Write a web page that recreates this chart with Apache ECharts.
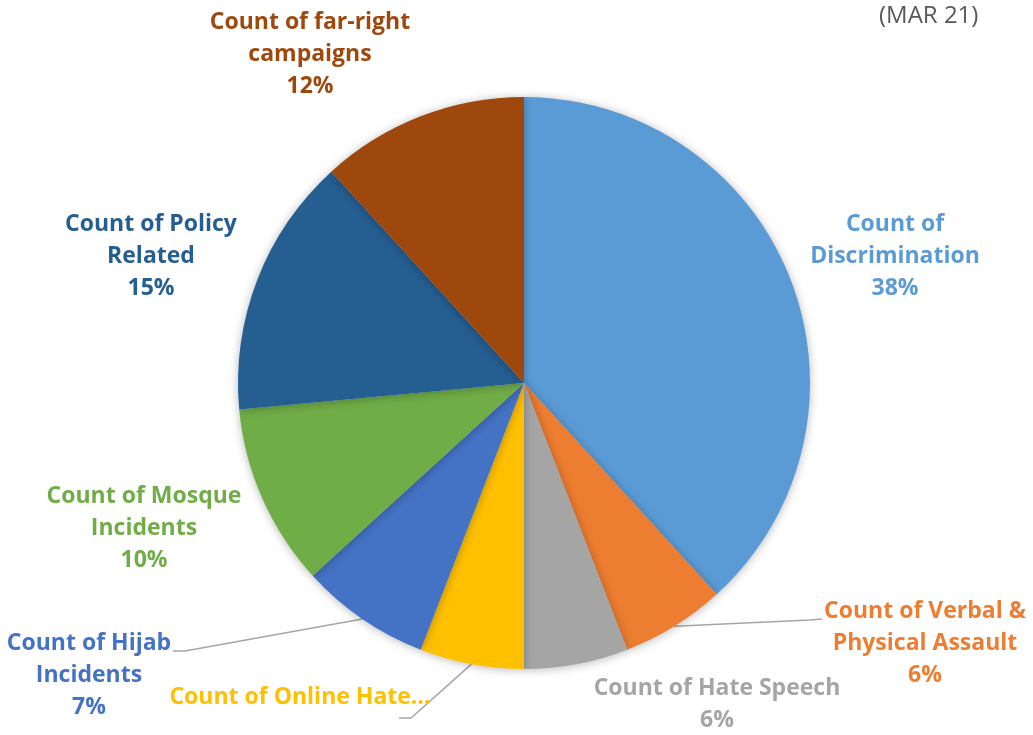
<!DOCTYPE html>
<html>
<head>
<meta charset="utf-8">
<script src="https://cdn.jsdelivr.net/npm/echarts@6/dist/echarts.min.js"></script>
<style>
html,body{margin:0;padding:0;background:#fff;}
#chart{width:1033px;height:735px;}
</style>
</head>
<body>
<div id="chart"></div>
<script>
// ---- data ----
const categories = ['Count of Discrimination', 'Count of Verbal & Physical Assault', 'Count of Hate Speech', 'Count of Online Hate…', 'Count of Hijab Incidents', 'Count of Mosque Incidents', 'Count of Policy Related', 'Count of far-right campaigns'];
const values = [26, 4, 4, 4, 5, 7, 10, 8];
const labelTexts = ['Count of\nDiscrimination', 'Count of Verbal &\nPhysical Assault', 'Count of Hate Speech', 'Count of Online Hate…', 'Count of Hijab\nIncidents', 'Count of Mosque\nIncidents', 'Count of Policy\nRelated', 'Count of far-right\ncampaigns'];
const showPercent = [true, true, true, false, true, true, true, true];
const titleText = '(MAR 21)';

// ---- styles ----
const colors = ['#5B9BD5', '#ED7D31', '#A5A5A5', '#FFC000', '#4472C4', '#70AD47', '#255E91', '#9E480E'];
const labelAnchors = [[895, 256], [925, 643], [717, 704], [300, 697], [89, 675], [144, 528], [151, 256], [310, 54]];
const leaderBends = [null, [[810, 620], [822, 619]], null, [[411, 718], [399, 718]], [[185, 651], [173, 651]], null, null, null];

const chart = echarts.init(document.getElementById('chart'), null, {renderer: 'canvas'});
const FONT = 'Open Sans';

const data = categories.map((c, i) => ({
  name: c,
  value: values[i],
  itemStyle: {color: colors[i]},
  label: {color: colors[i]},
  labelLine: {show: !!leaderBends[i]}
}));

chart.setOption({
  animation: false,
  title: {
    text: titleText,
    left: 874,
    top: -1,
    textStyle: {fontFamily: FONT, fontSize: 24, fontWeight: 'normal', color: '#595959'}
  },
  series: [{
    type: 'pie',
    center: [524, 383],
    radius: 286,
    startAngle: 90,
    clockwise: true,
    percentPrecision: 0,
    avoidLabelOverlap: false,
    data: data,
    itemStyle: {
      shadowBlur: 10,
      shadowColor: 'rgba(0,0,0,0.28)',
      shadowOffsetX: 0,
      shadowOffsetY: 1
    },
    label: {
      show: true,
      position: 'outside',
      fontFamily: FONT,
      fontSize: 23,
      fontWeight: 'bold',
      lineHeight: 32,
      align: 'center',
      formatter: function (p) {
        const i = p.dataIndex;
        return showPercent[i] ? labelTexts[i] + '\n' + p.percent + '%' : labelTexts[i];
      }
    },
    labelLine: {
      lineStyle: {color: '#a6a6a6', width: 1.5}
    },
    labelLayout: function (p) {
      const i = p.dataIndex;
      const out = {
        x: labelAnchors[i][0],
        y: labelAnchors[i][1],
        align: 'center',
        verticalAlign: 'middle'
      };
      if (leaderBends[i] && p.labelLinePoints && p.labelLinePoints[0]) {
        out.labelLinePoints = [p.labelLinePoints[0], leaderBends[i][0], leaderBends[i][1]];
      }
      return out;
    }
  }]
});
</script>
</body>
</html>
